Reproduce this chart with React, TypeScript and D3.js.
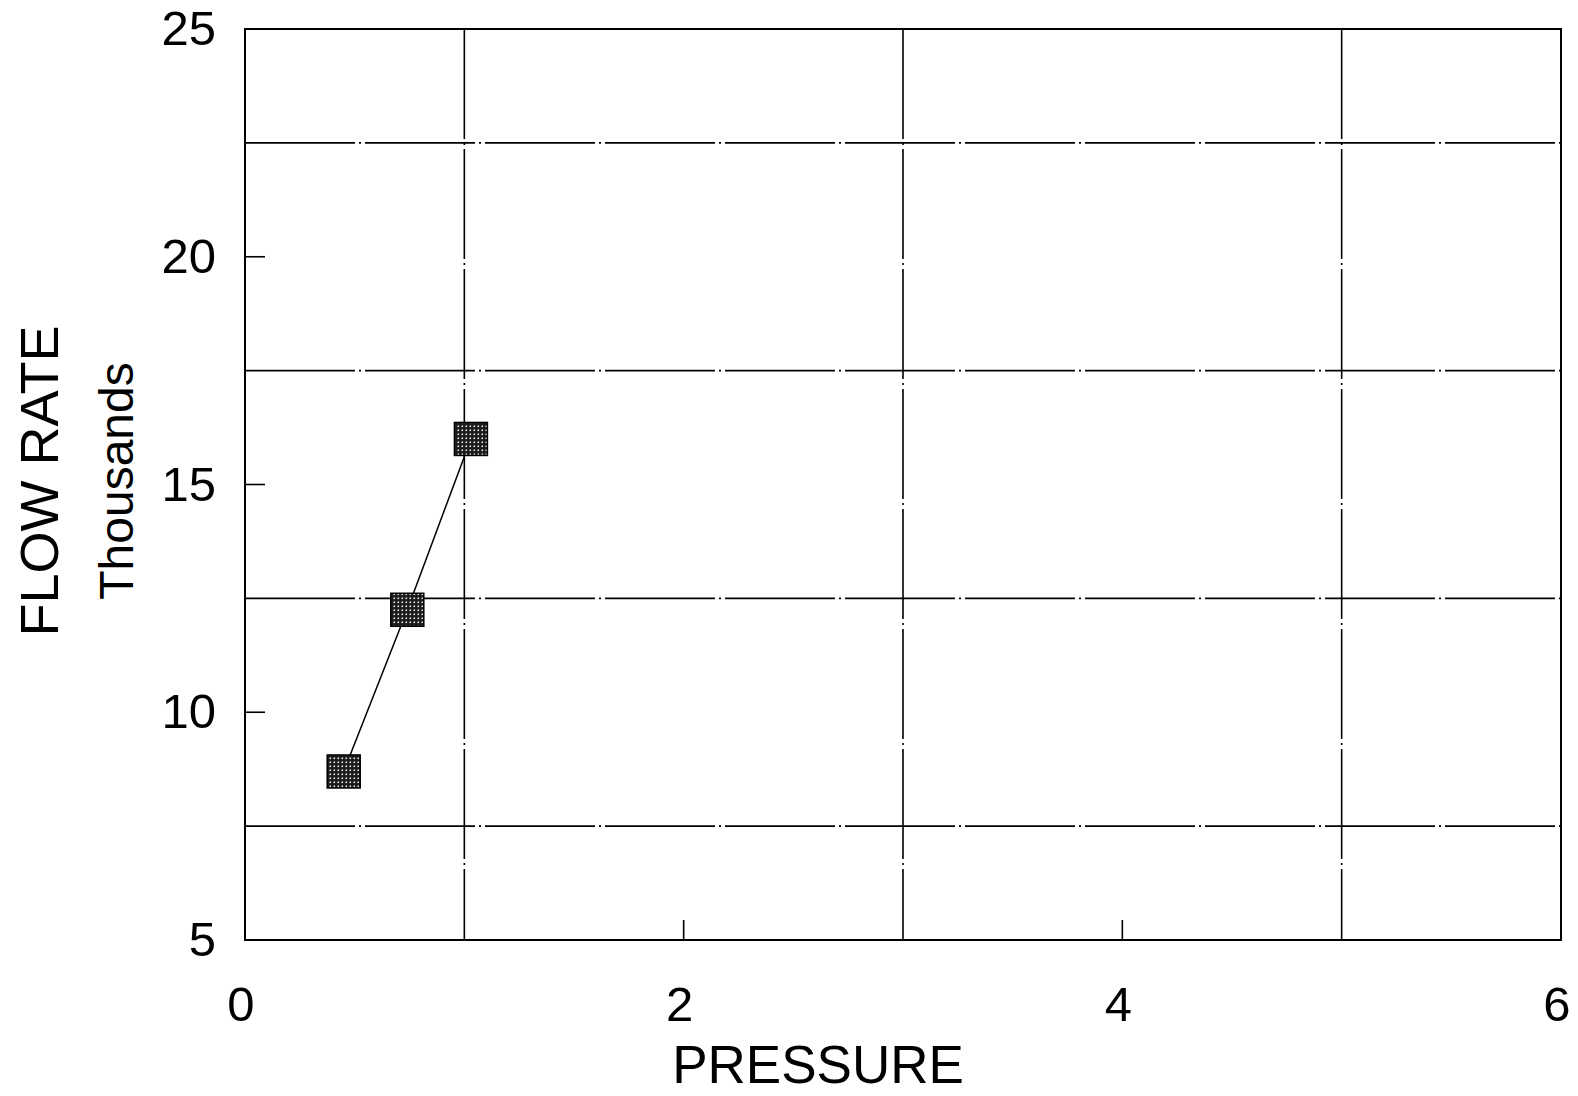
import React from "react";
import * as d3 from "d3";

const pressure = [0.45, 0.74, 1.03];
const flowRate = [8.7, 12.25, 16.0];
const xTicks = [0, 2, 4, 6];
const yTicks = [5, 10, 15, 20, 25];
const xGrid = [1, 3, 5];
const yGrid = [7.5, 12.5, 17.5, 22.5];
const xInnerTicks = [2, 4];
const yInnerTicks = [10, 15, 20];

const W = 1578;
const H = 1096;
const FONT = "'Liberation Sans', Arial, Helvetica, sans-serif";

export default function App() {
  const x = d3.scaleLinear().domain([0, 6]).range([245, 1561]);
  const y = d3.scaleLinear().domain([5, 25]).range([940, 29]);
  const pts = pressure.map((p, i) => [x(p), y(flowRate[i])] as [number, number]);
  const line = d3.line()(pts) || "";
  const dash = "110,4,2,4";
  const s = 33;

  return (
    <svg
      width={W}
      height={H}
      viewBox={`0 0 ${W} ${H}`}
      style={{ position: "absolute", left: 0, top: 0, display: "block", background: "#fff" }}
    >
      <defs>
        <pattern id="stip" width="4" height="4" patternUnits="userSpaceOnUse">
          <rect width="4" height="4" fill="#1a1a1a" />
          <rect x="1.5" y="1.5" width="1.6" height="1.6" fill="#e8e8e8" />
        </pattern>
      </defs>
      <rect x={0} y={0} width={W} height={H} fill="#fff" />
      {/* gridlines */}
      {yGrid.map((v) => (
        <line key={"gy" + v} x1={x(0)} x2={x(6)} y1={y(v)} y2={y(v)} stroke="#000" strokeWidth={1.6} strokeDasharray={dash} />
      ))}
      {xGrid.map((v) => (
        <line key={"gx" + v} x1={x(v)} x2={x(v)} y1={y(25)} y2={y(5)} stroke="#000" strokeWidth={1.6} strokeDasharray={dash} />
      ))}
      {/* frame */}
      <rect x={x(0)} y={y(25)} width={x(6) - x(0)} height={y(5) - y(25)} fill="none" stroke="#000" strokeWidth={2} />
      {/* inner ticks */}
      {yInnerTicks.map((v) => (
        <line key={"ty" + v} x1={x(0)} x2={x(0) + 20} y1={y(v)} y2={y(v)} stroke="#000" strokeWidth={1.6} />
      ))}
      {xInnerTicks.map((v) => (
        <line key={"tx" + v} x1={x(v)} x2={x(v)} y1={y(5)} y2={y(5) - 20} stroke="#000" strokeWidth={1.6} />
      ))}
      {/* y tick labels */}
      {yTicks.map((v) => (
        <text key={"ly" + v} x={216} y={y(v) + 16} textAnchor="end" fontFamily={FONT} fontSize={49} fill="#000">
          {v}
        </text>
      ))}
      {/* x tick labels */}
      {xTicks.map((v) => (
        <text key={"lx" + v} x={x(v) - 4} y={1021} textAnchor="middle" fontFamily={FONT} fontSize={49} fill="#000">
          {v}
        </text>
      ))}
      {/* axis titles */}
      <text x={818} y={1083} textAnchor="middle" fontFamily={FONT} fontSize={53} fill="#000">
        PRESSURE
      </text>
      <text transform={`translate(58,481) rotate(-90)`} textAnchor="middle" fontFamily={FONT} fontSize={54} fill="#000">
        FLOW RATE
      </text>
      <text transform={`translate(133,481) rotate(-90)`} textAnchor="middle" fontFamily={FONT} fontSize={48} fill="#000">
        Thousands
      </text>
      {/* series */}
      <path d={line} fill="none" stroke="#000" strokeWidth={1.5} />
      {pts.map(([px, py], i) => (
        <rect key={"m" + i} x={px - s / 2} y={py - s / 2} width={s} height={s} fill="url(#stip)" stroke="#000" strokeWidth={1.5} />
      ))}
    </svg>
  );
}
